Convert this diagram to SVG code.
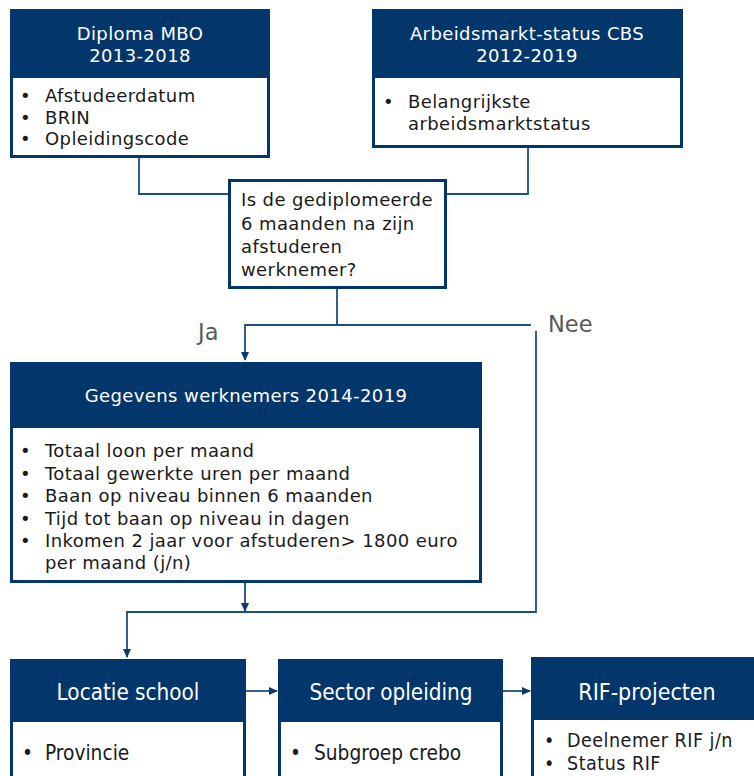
<svg xmlns="http://www.w3.org/2000/svg" width="754" height="776" viewBox="0 0 754 776">
<defs>
<marker id="arr" markerWidth="10" markerHeight="10" refX="8" refY="5" orient="auto" markerUnits="userSpaceOnUse">
<path d="M0,1 L9,5 L0,9 Z" fill="#0b3a6b"/>
</marker>
<style>
.hd{fill:#03366a}
.bd{fill:#fff;stroke:#03366a;stroke-width:3}
.ht{font-family:"DejaVu Sans",Verdana,sans-serif;font-size:18px;letter-spacing:0.4px;fill:#fff;text-anchor:middle}
.bt{font-family:"DejaVu Sans",Verdana,sans-serif;font-size:18px;letter-spacing:0.4px;fill:#1a1a1a}
.hc{font-family:"DejaVu Sans Condensed","DejaVu Sans",sans-serif;font-stretch:condensed;font-size:22.3px;fill:#fff;text-anchor:middle}
.bc{font-family:"DejaVu Sans Condensed","DejaVu Sans",sans-serif;font-stretch:condensed;font-size:20.7px;fill:#1a1a1a}
.br{font-family:"DejaVu Sans Condensed","DejaVu Sans",sans-serif;font-stretch:condensed;font-size:19.5px;letter-spacing:0.5px;fill:#1a1a1a}
.lb{font-family:"DejaVu Sans",Verdana,sans-serif;font-size:22.5px;fill:#595959}
.ln{fill:none;stroke:#1f4e80;stroke-width:1.8}
</style>
</defs>
<rect width="754" height="776" fill="#fff"/>

<g id="connectors">
<path class="ln" d="M139,157 V194 H229"/>
<path class="ln" d="M528,148 V194 H446"/>
<path class="ln" d="M337,289 V325 H245 V360" marker-end="url(#arr)"/>
<path class="ln" d="M337,325 H531"/>
<path class="ln" d="M536,331 V612 H127 V657" marker-end="url(#arr)"/>
<path class="ln" d="M245,583 V611" marker-end="url(#arr)"/>
<path class="ln" d="M246,691 H277" marker-end="url(#arr)"/>
<path class="ln" d="M503,691 H530" marker-end="url(#arr)"/>
<text class="lb" x="198" y="340">Ja</text>
<text class="lb" x="548" y="332">Nee</text>
</g>

<g id="diploma">
<rect class="bd" x="11.5" y="10.5" width="257" height="146"/>
<rect class="hd" x="10" y="9" width="260" height="69" rx="2"/>
<text class="ht" x="140" y="40">Diploma MBO</text>
<text class="ht" x="140" y="62">2013-2018</text>
<text class="bt" x="20" y="102">•</text><text class="bt" x="45" y="102">Afstudeerdatum</text>
<text class="bt" x="20" y="124">•</text><text class="bt" x="45" y="124">BRIN</text>
<text class="bt" x="20" y="145">•</text><text class="bt" x="45" y="145">Opleidingscode</text>
</g>

<g id="arbeidsmarkt">
<rect class="bd" x="373.5" y="10.5" width="308" height="136"/>
<rect class="hd" x="372" y="9" width="311" height="69" rx="2"/>
<text class="ht" x="527" y="40">Arbeidsmarkt-status CBS</text>
<text class="ht" x="527" y="62">2012-2019</text>
<text class="bt" x="383" y="108">•</text><text class="bt" x="408" y="108">Belangrijkste</text>
<text class="bt" x="408" y="130">arbeidsmarktstatus</text>
</g>

<g id="beslissing">
<rect class="bd" x="229.5" y="180.5" width="216" height="107"/>
<text class="bt" x="241" y="206">Is de gediplomeerde</text>
<text class="bt" x="241" y="230">6 maanden na zijn</text>
<text class="bt" x="241" y="253">afstuderen</text>
<text class="bt" x="241" y="276">werknemer?</text>
</g>

<g id="werknemers">
<rect class="bd" x="11.5" y="363.5" width="469" height="218"/>
<rect class="hd" x="10" y="362" width="472" height="66" rx="2"/>
<text class="ht" x="246" y="402">Gegevens werknemers 2014-2019</text>
<text class="bt" x="20" y="457">•</text><text class="bt" x="45" y="457">Totaal loon per maand</text>
<text class="bt" x="20" y="480">•</text><text class="bt" x="45" y="480">Totaal gewerkte uren per maand</text>
<text class="bt" x="20" y="502">•</text><text class="bt" x="45" y="502">Baan op niveau binnen 6 maanden</text>
<text class="bt" x="20" y="525">•</text><text class="bt" x="45" y="525">Tijd tot baan op niveau in dagen</text>
<text class="bt" x="20" y="547">•</text><text class="bt" x="45" y="547">Inkomen 2 jaar voor afstuderen&gt; 1800 euro</text>
<text class="bt" x="45" y="569">per maand (j/n)</text>
</g>

<g id="locatie">
<rect class="bd" x="11.5" y="660.5" width="233" height="120"/>
<rect class="hd" x="10" y="659" width="236" height="63" rx="2"/>
<text class="hc" x="128" y="700">Locatie school</text>
<text class="bc" x="22" y="760">•</text><text class="bc" x="45" y="760">Provincie</text>
</g>

<g id="sector">
<rect class="bd" x="279.5" y="660.5" width="222" height="120"/>
<rect class="hd" x="278" y="659" width="225" height="63" rx="2"/>
<text class="hc" x="391" y="700">Sector opleiding</text>
<text class="bc" x="290" y="760">•</text><text class="bc" x="314" y="760">Subgroep crebo</text>
</g>

<g id="rif">
<rect class="bd" x="532.5" y="658.5" width="225" height="122"/>
<rect class="hd" x="531" y="657" width="230" height="63" rx="2"/>
<text class="hc" x="647" y="700" style="font-size:23px">RIF-projecten</text>
<text class="br" x="544" y="747">•</text><text class="br" x="567" y="747">Deelnemer RIF j/n</text>
<text class="br" x="544" y="770">•</text><text class="br" x="567" y="770">Status RIF</text>
</g>
</svg>
